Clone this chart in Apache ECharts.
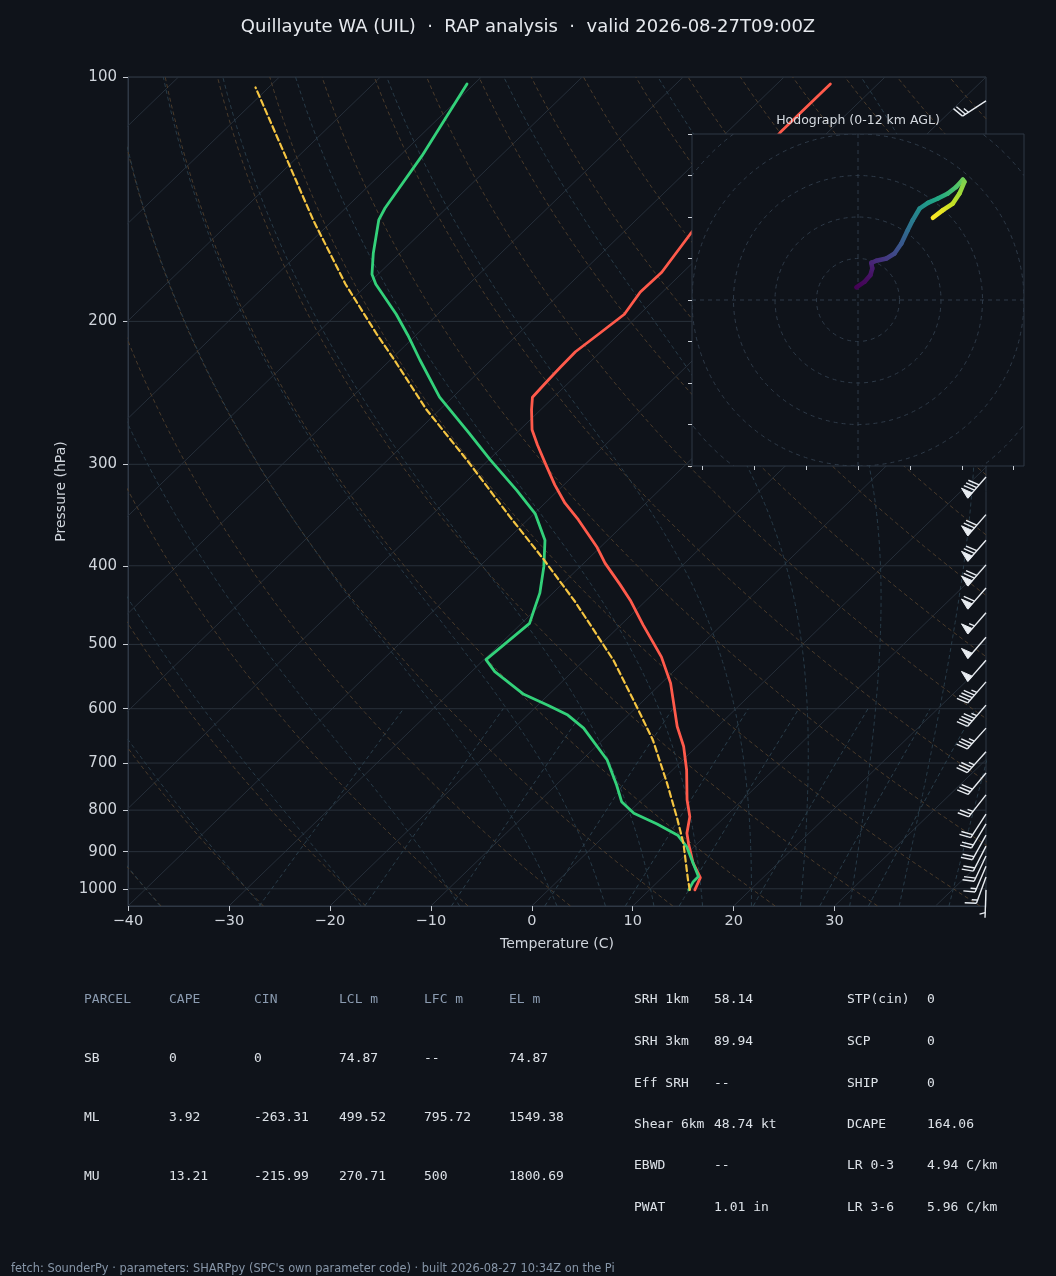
<!DOCTYPE html>
<html><head><meta charset="utf-8">
<script src="https://cdn.jsdelivr.net/npm/echarts@6/dist/echarts.min.js"></script>
<style>html,body{margin:0;padding:0;background:#0f131a;}#c{width:1056px;height:1276px;}</style>
</head><body><div id="c"></div>
<script>
// ---------------- data ----------------
const tempP = [1003, 969, 930, 879, 854, 815, 777, 714, 668, 631, 558, 518, 473, 441, 422, 397, 379, 351, 335, 318, 300, 284, 272, 257, 248, 236, 228, 218, 207, 196, 184, 174, 156, 117, 102];
const tempC = [14.5, 13.8, 11.6, 9.1, 7.9, 6.5, 4.5, 1.4, -1.3, -4.0, -9.1, -12.7, -17.8, -21.6, -24.2, -27.9, -30.4, -35.0, -38.0, -40.9, -43.9, -46.7, -48.8, -50.9, -52.1, -52.3, -52.4, -52.5, -52.0, -51.5, -52.2, -52.1, -53.2, -54.7, -54.7];
const dewP = [1003, 980, 966, 930, 888, 859, 832, 807, 781, 745, 694, 634, 611, 594, 576, 540, 522, 471, 454, 432, 401, 372, 345, 323, 296, 275, 248, 223, 208, 196, 180, 175, 165, 150, 145, 125, 102];
const dewC = [13.9, 13.5, 13.5, 11.6, 9.3, 7.2, 4.0, 0.6, -1.8, -4.0, -7.5, -13.1, -16.0, -19.0, -22.5, -27.7, -29.8, -29.2, -30.1, -31.3, -33.6, -36.2, -39.9, -44.1, -49.9, -54.6, -61.3, -67.1, -70.8, -74.1, -79.2, -80.6, -82.6, -85.5, -86.1, -87.8, -90.7];
const parcelP = [1003, 975, 879, 815, 741, 656, 597, 523, 478, 443, 392, 348, 298, 257, 222, 207, 180, 150, 122, 103];
const parcelC = [14.0, 12.8, 8.6, 5.2, 0.8, -5.0, -10.0, -17.1, -22.4, -26.9, -34.5, -42.1, -51.8, -61.3, -69.9, -74.1, -82.2, -92.0, -102.6, -111.3];

const barbP   = [107, 311, 346, 372, 399, 426, 457, 490, 523, 556, 594, 634, 678, 720, 766, 809, 832, 859, 886, 911, 938, 967, 1003];
const barbSpd = [25, 80, 70, 70, 70, 60, 55, 50, 50, 45, 45, 35, 35, 30, 25, 20, 20, 20, 20, 20, 15, 15, 5];
const barbDir = [237, 221, 221, 221, 221, 221, 221, 221, 221, 221, 221, 222, 222, 220, 218, 213, 211, 209, 207, 205, 203, 200, 182];

const hodoU = [-0.8, 3.2, 6.0, 6.9, 6.4, 8.8, 13.7, 17.6, 20.9, 24.0, 26.4, 29.7, 33.7, 38.5, 43.3, 47.3, 50.5, 51.3, 48.9, 45.7, 40.9, 36.1];
const hodoV = [6.1, 8.8, 12.0, 15.2, 17.9, 18.9, 20.0, 22.4, 27.2, 33.7, 38.5, 44.1, 46.8, 48.9, 51.3, 54.5, 58.0, 56.9, 51.3, 46.5, 43.3, 39.6];
const hodoH = [0, 0.3, 0.6, 0.9, 1.2, 1.5, 2.0, 2.6, 3.3, 4.2, 5.0, 5.8, 6.5, 7.2, 7.9, 8.6, 9.3, 9.7, 10.3, 10.9, 11.5, 12.0];

const pressureTicks = [100, 200, 300, 400, 500, 600, 700, 800, 900, 1000];
const tempTicks = [-40, -30, -20, -10, 0, 10, 20, 30, 40];
const hodoRings = [20, 40, 60, 80, 100, 120];
const hodoXTicks = [-75, -50, -25, 0, 25, 50, 75];
const mixingRatios = [0.0004, 0.001, 0.002, 0.004, 0.007, 0.01, 0.016, 0.024, 0.032];

const parcelHeader = ['PARCEL', 'CAPE', 'CIN', 'LCL m', 'LFC m', 'EL m'];
const parcelRows = [
  ['SB', '0', '0', '74.87', '--', '74.87'],
  ['ML', '3.92', '-263.31', '499.52', '795.72', '1549.38'],
  ['MU', '13.21', '-215.99', '270.71', '500', '1800.69']
];
const paramsLeft = [['SRH 1km', '58.14'], ['SRH 3km', '89.94'], ['Eff SRH', '--'], ['Shear 6km', '48.74 kt'], ['EBWD', '--'], ['PWAT', '1.01 in']];
const paramsRight = [['STP(cin)', '0'], ['SCP', '0'], ['SHIP', '0'], ['DCAPE', '164.06'], ['LR 0-3', '4.94 C/km'], ['LR 3-6', '5.96 C/km']];

const titleText = 'Quillayute WA (UIL)  \u00b7  RAP analysis  \u00b7  valid 2026-08-27T09:00Z';
const footerText = "fetch: SounderPy \u00b7 parameters: SHARPpy (SPC's own parameter code) \u00b7 built 2026-08-27 10:34Z on the Pi";

// ---------------- helpers ----------------
const BG = '#0f131a';
const FONT = '"DejaVu Sans", sans-serif';
const MONO = '"DejaVu Sans Mono", monospace';
const XMIN = -40, XMAX = 45, PBOT = 1050, PTOP = 100;
const LB = Math.log10(PBOT), LT = Math.log10(PTOP);
const yv = p => Math.log10(p);
const skewX = (t, p) => t + (XMAX - XMIN) * (LB - Math.log10(p)) / (LB - LT);

const Rd = 287.04749, Cp = 1004.6662, Lv = 2.50084e6, EPS = 0.62197, KAP = Rd / Cp;
function esat(tc) { return 6.112 * Math.exp(17.67 * tc / (tc + 243.5)); }
function dTdp(tc, p) {
  const T = tc + 273.15, es = esat(tc), rs = EPS * es / (p - es);
  return (Rd * T + Lv * rs) / (Cp + Lv * Lv * rs * EPS / (Rd * T * T)) / p;
}
function rk(tc, p, dp) {
  const k1 = dTdp(tc, p), k2 = dTdp(tc + k1 * dp / 2, p + dp / 2),
        k3 = dTdp(tc + k2 * dp / 2, p + dp / 2), k4 = dTdp(tc + k3 * dp, p + dp);
  return tc + dp * (k1 + 2 * k2 + 2 * k3 + k4) / 6;
}
const pSamples = [];
for (let i = 0; i <= 60; i++) pSamples.push(Math.pow(10, LB + (LT - LB) * i / 60));

function bgLine(data, color, dashed) {
  return { type: 'line', xAxisIndex: 0, yAxisIndex: 0, data, symbol: 'none', silent: true, clip: true,
    animation: false, z: 1, lineStyle: { color, width: 1, type: dashed ? [4, 3] : 'solid' } };
}
const series = [];
// isotherms
for (let t0 = -130; t0 <= 40; t0 += 10)
  series.push(bgLine([[skewX(t0, PBOT), yv(PBOT)], [skewX(t0, PTOP), yv(PTOP)]], '#262f3a', false));
// isobars
pressureTicks.forEach(p => series.push(bgLine([[XMIN, yv(p)], [XMAX, yv(p)]], '#29313b', false)));
// dry adiabats
for (let t0 = -40; t0 <= 245; t0 += 10) {
  series.push(bgLine(pSamples.map(p => {
    const t = (t0 + 273.15) * Math.pow(p / 1000, KAP) - 273.15;
    return [skewX(t, p), yv(p)];
  }), '#4a3b2b', true));
}
// moist adiabats
const moistStarts = [-40, -30, -20, -10];
for (let t = 0; t <= 95; t += 5) moistStarts.push(t);
moistStarts.forEach(t0 => {
  const pts = [];
  let T = t0, p = 1000;
  const down = [];
  while (p < PBOT) { T = rk(T, p, 5); p += 5; down.unshift([p, T]); }
  T = t0; p = 1000;
  const up = [[1000, t0]];
  while (p > PTOP) { T = rk(T, p, -5); p -= 5; up.push([p, T]); }
  down.concat(up).forEach(d => pts.push([skewX(d[1], d[0]), yv(d[0])]));
  series.push(bgLine(pts, '#283b48', true));
});
// mixing ratio lines
mixingRatios.forEach(w => {
  const pts = [];
  for (let i = 0; i <= 20; i++) {
    const p = PBOT + (600 - PBOT) * i / 20;
    const e = p * w / (EPS + w), l = Math.log(e / 6.112);
    const td = 243.5 * l / (17.67 - l);
    pts.push([skewX(td, p), yv(p)]);
  }
  series.push(bgLine(pts, '#2a3e4b', true));
});

function profile(pArr, tArr, color, width, dash, z) {
  return { type: 'line', xAxisIndex: 0, yAxisIndex: 0, symbol: 'none', silent: true, clip: true, z,
    data: pArr.map((p, i) => [skewX(tArr[i], p), yv(p)]),
    lineStyle: { color, width, type: dash || 'solid', cap: 'round', join: 'round' } };
}
series.push(profile(tempP, tempC, '#ff5a4b', 2.8, null, 3));
series.push(profile(dewP, dewC, '#33d17a', 2.8, null, 4));
series.push(profile(parcelP, parcelC, '#f5c542', 2.2, [6, 3.5], 5));

// wind barbs
const BARB = '#e8ecf1';
series.push({
  type: 'custom', xAxisIndex: 0, yAxisIndex: 0, z: 6, silent: true, clip: false,
  dimensions: ['x', 'y', 'spd', 'dir'], encode: { x: 0, y: 1 },
  data: barbP.map((p, i) => [XMAX, yv(p), barbSpd[i], barbDir[i]]),
  renderItem: (params, api) => {
    const b = api.coord([api.value(0), api.value(1)]);
    const spd = 5 * Math.round(api.value(2) / 5);
    const th = api.value(3) * Math.PI / 180;
    const d = [Math.sin(th), -Math.cos(th)], n = [-d[1], d[0]];
    const L = 28, fh = 0.4 * L, fw = 0.25 * L, sp = 0.125 * L;
    const pt = (o, h) => [b[0] + d[0] * o + n[0] * h, b[1] + d[1] * o + n[1] * h];
    const ch = [];
    const ln = (a, c) => ch.push({ type: 'line', shape: { x1: a[0], y1: a[1], x2: c[0], y2: c[1] }, style: { stroke: BARB, lineWidth: 1.4 } });
    ln(pt(0, 0), pt(L, 0));
    const nf = Math.floor(spd / 50), rem = spd - 50 * nf, nb = Math.floor(rem / 10), half = rem - 10 * nb >= 5;
    let off = L;
    for (let i = 0; i < nf; i++) {
      if (off !== L) off += sp / 2;
      ch.push({ type: 'polygon', shape: { points: [pt(off, 0), pt(off - fw / 2, fh), pt(off - fw, 0)] }, style: { fill: BARB, stroke: BARB, lineWidth: 1 } });
      off -= fw + sp;
    }
    for (let i = 0; i < nb; i++) { ln(pt(off, 0), pt(off + fw / 2, fh)); off -= sp; }
    if (half) { if (off === L) off -= 1.5 * sp; ln(pt(off, 0), pt(off + fw / 4, fh / 2)); }
    return { type: 'group', children: ch };
  }
});

// hodograph
series.push({
  type: 'custom', xAxisIndex: 1, yAxisIndex: 1, z: 10, silent: true, data: [[0, 0]],
  renderItem: (params) => {
    const cs = params.coordSys;
    return { type: 'rect', shape: { x: cs.x, y: cs.y, width: cs.width, height: cs.height }, style: { fill: BG, stroke: '#2f3845', lineWidth: 1 } };
  }
});
series.push({
  type: 'custom', xAxisIndex: 1, yAxisIndex: 1, z: 11, silent: true, clip: true,
  data: hodoRings.map(r => [r, 0]), encode: { x: 0, y: 1 },
  renderItem: (params, api) => {
    const c = api.coord([0, 0]);
    const r = api.size([api.value(0), 0])[0];
    return { type: 'circle', shape: { cx: c[0], cy: c[1], r }, style: { fill: 'none', stroke: '#2e3a48', lineWidth: 1, lineDash: [4, 4] } };
  }
});
[[[-80, 0], [80, 0]], [[0, -80], [0, 80]]].forEach(dat => series.push({
  type: 'line', xAxisIndex: 1, yAxisIndex: 1, z: 11, data: dat, symbol: 'none', silent: true,
  lineStyle: { color: '#2e3a48', width: 1, type: [4, 4] }
}));
const VIR = ['#440154', '#482475', '#414487', '#355f8d', '#2a788e', '#21918c', '#22a884', '#44bf70', '#7ad151', '#bddf26', '#fde725'];
function hex2rgb(h) { return [parseInt(h.substr(1, 2), 16), parseInt(h.substr(3, 2), 16), parseInt(h.substr(5, 2), 16)]; }
function viridis(t) {
  t = Math.max(0, Math.min(1, t)) * 10;
  const i = Math.min(9, Math.floor(t)), f = t - i;
  const a = hex2rgb(VIR[i]), b = hex2rgb(VIR[i + 1]);
  return 'rgb(' + a.map((v, k) => Math.round(v + (b[k] - v) * f)).join(',') + ')';
}
const hMax = hodoH[hodoH.length - 1];
series.push({
  type: 'custom', xAxisIndex: 1, yAxisIndex: 1, z: 12, silent: true,
  dimensions: ['u0', 'v0', 'u1', 'v1', 'h0', 'h1'], encode: { x: [0, 2], y: [1, 3] },
  data: hodoU.slice(1).map((u, i) => [hodoU[i], hodoV[i], u, hodoV[i + 1], hodoH[i], hodoH[i + 1]]),
  renderItem: (params, api) => {
    const a = api.coord([api.value(0), api.value(1)]), c = api.coord([api.value(2), api.value(3)]);
    const g = new echarts.graphic.LinearGradient(a[0], a[1], c[0] + 0.01, c[1] + 0.01,
      [{ offset: 0, color: viridis(api.value(4) / hMax) }, { offset: 1, color: viridis(api.value(5) / hMax) }], true);
    return { type: 'line', shape: { x1: a[0], y1: a[1], x2: c[0], y2: c[1] }, style: { stroke: g, lineWidth: 4.5, lineCap: 'round' } };
  }
});

// ---------------- texts ----------------
function txt(x, y, s, size, color, family, align) {
  const al = align || 'left';
  return { type: 'text', x, y, silent: true, z: 50,
    style: { text: s, fill: color, font: size + 'px ' + family, align: al, verticalAlign: 'middle', textAlign: al, textVerticalAlign: 'middle' } };
}
const graphics = [];
graphics.push(txt(528, 27, titleText, 18, '#e6e9ee', FONT, 'center'));
graphics.push(txt(858, 121, 'Hodograph (0-12 km AGL)', 12.5, '#d5dae0', FONT, 'center'));
const colX = [84, 169, 254, 339, 424, 509];
parcelHeader.forEach((h, i) => graphics.push(txt(colX[i], 1000, h, 13, '#8b9bb0', MONO)));
const rowY = [1059, 1118, 1177];
parcelRows.forEach((row, r) => row.forEach((v, i) => graphics.push(txt(colX[i], rowY[r], v, 13, '#dde2e8', MONO))));
const pY = [1000, 1042, 1084, 1125, 1166, 1208];
paramsLeft.forEach((row, r) => { graphics.push(txt(634, pY[r], row[0], 13, '#dde2e8', MONO)); graphics.push(txt(714, pY[r], row[1], 13, '#dde2e8', MONO)); });
paramsRight.forEach((row, r) => { graphics.push(txt(847, pY[r], row[0], 13, '#dde2e8', MONO)); graphics.push(txt(927, pY[r], row[1], 13, '#dde2e8', MONO)); });
graphics.push(txt(11, 1269, footerText, 11.4, '#8796a8', FONT));

// ---------------- chart ----------------
const AX = '#2f3845', TICK = '#c8cdd4', LAB = '#d0d5dc';
const chart = echarts.init(document.getElementById('c'), null, { renderer: 'canvas', width: 1056, height: 1276 });
chart.setOption({
  backgroundColor: BG,
  animation: false,
  textStyle: { fontFamily: FONT },
  grid: [
    { left: 128, top: 77, width: 858, height: 829, show: true, borderColor: AX, borderWidth: 1, backgroundColor: 'transparent', outerBoundsMode: 'none', containLabel: false },
    { left: 692, top: 134, width: 332, height: 332, show: false, outerBoundsMode: 'none', containLabel: false }
  ],
  xAxis: [
    { type: 'value', gridIndex: 0, min: XMIN, max: XMAX, interval: 10,
      name: 'Temperature (C)', nameLocation: 'middle', nameGap: 31,
      nameTextStyle: { color: LAB, fontSize: 14, fontFamily: FONT },
      axisLine: { show: true, onZero: false, lineStyle: { color: AX } },
      axisTick: { show: true, length: 5, customValues: tempTicks, lineStyle: { color: TICK } },
      axisLabel: { show: true, customValues: tempTicks, margin: 8, color: LAB, fontSize: 14.5, fontFamily: FONT, showMaxLabel: false,
        formatter: v => v < 0 ? '\u2212' + Math.abs(v) : String(v) },
      splitLine: { show: false } },
    { type: 'value', gridIndex: 1, min: -80, max: 80, z: 15,
      axisLine: { show: false, onZero: false },
      axisTick: { show: true, length: 4, customValues: hodoXTicks, lineStyle: { color: TICK } },
      axisLabel: { show: false }, splitLine: { show: false } }
  ],
  yAxis: [
    { type: 'value', gridIndex: 0, min: LT, max: LB, inverse: true,
      name: 'Pressure (hPa)', nameLocation: 'middle', nameGap: 55, nameRotate: 90,
      nameTextStyle: { color: LAB, fontSize: 14, fontFamily: FONT },
      axisLine: { show: true, onZero: false, lineStyle: { color: AX } },
      axisTick: { show: true, length: 5, customValues: pressureTicks.map(yv), lineStyle: { color: TICK } },
      axisLabel: { show: true, customValues: pressureTicks.map(yv), margin: 11, color: LAB, fontSize: 15, fontFamily: FONT,
        formatter: v => String(Math.round(Math.pow(10, v))) },
      splitLine: { show: false } },
    { type: 'value', gridIndex: 1, min: -80, max: 80, interval: 20, z: 15,
      axisLine: { show: false, onZero: false },
      axisTick: { show: true, length: 4, lineStyle: { color: TICK } },
      axisLabel: { show: false }, splitLine: { show: false } }
  ],
  graphic: { elements: graphics },
  series
});
</script></body></html>
